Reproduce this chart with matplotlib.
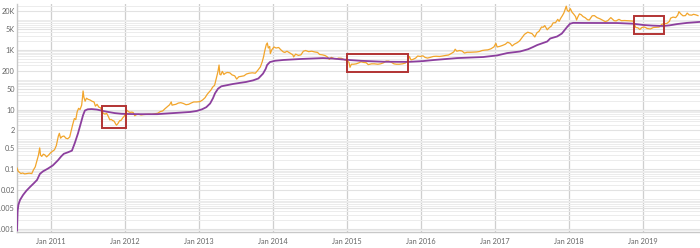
import numpy as np
import matplotlib
matplotlib.use("Agg")
import matplotlib.pyplot as plt
import matplotlib.dates as mdates
from matplotlib.patches import Rectangle
from matplotlib.ticker import FixedLocator, FixedFormatter, LogLocator, NullFormatter

# ---------------- data ----------------
price_dates = [
    "2010-07-17", "2010-07-22", "2010-07-28", "2010-08-05", "2010-08-14", "2010-08-24", "2010-09-03",
    "2010-09-15", "2010-09-28", "2010-10-06", "2010-10-15", "2010-10-24", "2010-10-31", "2010-11-06",
    "2010-11-10", "2010-11-16", "2010-11-24", "2010-12-02", "2010-12-10", "2010-12-20", "2010-12-30",
    "2011-01-08", "2011-01-18", "2011-01-27", "2011-02-06", "2011-02-11", "2011-02-17", "2011-02-25",
    "2011-03-06", "2011-03-15", "2011-03-24", "2011-04-03", "2011-04-10", "2011-04-17", "2011-04-26",
    "2011-05-03", "2011-05-10", "2011-05-17", "2011-05-24", "2011-06-01", "2011-06-05", "2011-06-08",
    "2011-06-12", "2011-06-18", "2011-06-25", "2011-07-03", "2011-07-12", "2011-07-22", "2011-08-01",
    "2011-08-08", "2011-08-16", "2011-08-25", "2011-09-02", "2011-09-09", "2011-09-16", "2011-09-24",
    "2011-10-02", "2011-10-10", "2011-10-18", "2011-10-24", "2011-11-01", "2011-11-08", "2011-11-17",
    "2011-11-20", "2011-11-27", "2011-12-05", "2011-12-12", "2011-12-20", "2011-12-28",
    "2012-01-05", "2012-01-10", "2012-01-17", "2012-01-25", "2012-02-02", "2012-02-10", "2012-02-18",
    "2012-02-27", "2012-03-08", "2012-03-20", "2012-04-02", "2012-04-15", "2012-04-28", "2012-05-12",
    "2012-05-27", "2012-06-10", "2012-06-22", "2012-07-05", "2012-07-15", "2012-07-28", "2012-08-08",
    "2012-08-16", "2012-08-20", "2012-08-28", "2012-09-08", "2012-09-20", "2012-10-02", "2012-10-15",
    "2012-10-28", "2012-11-10", "2012-11-22", "2012-12-05", "2012-12-20",
    "2013-01-05", "2013-01-18", "2013-01-30", "2013-02-09", "2013-02-18", "2013-02-28", "2013-03-08",
    "2013-03-18", "2013-03-27", "2013-04-03", "2013-04-09", "2013-04-13", "2013-04-18", "2013-04-25",
    "2013-05-03", "2013-05-10", "2013-05-20", "2013-06-01", "2013-06-12", "2013-06-25", "2013-07-05",
    "2013-07-15", "2013-07-28", "2013-08-10", "2013-08-22", "2013-09-05", "2013-09-20", "2013-10-05",
    "2013-10-18", "2013-10-30", "2013-11-08", "2013-11-15", "2013-11-20", "2013-11-28", "2013-12-03",
    "2013-12-08", "2013-12-15", "2013-12-18", "2013-12-25",
    "2014-01-05", "2014-01-15", "2014-01-28", "2014-02-08", "2014-02-20", "2014-02-28", "2014-03-10",
    "2014-03-25", "2014-04-08", "2014-04-12", "2014-04-22", "2014-05-05", "2014-05-18", "2014-05-30",
    "2014-06-10", "2014-06-25", "2014-07-10", "2014-07-25", "2014-08-08", "2014-08-18", "2014-09-01",
    "2014-09-15", "2014-09-25", "2014-10-05", "2014-10-15", "2014-10-28", "2014-11-10", "2014-11-20",
    "2014-12-05", "2014-12-20", "2014-12-31",
    "2015-01-10", "2015-01-15", "2015-01-22", "2015-02-02", "2015-02-15", "2015-03-01", "2015-03-10",
    "2015-03-22", "2015-04-05", "2015-04-15", "2015-05-01", "2015-05-15", "2015-06-01", "2015-06-15",
    "2015-06-30", "2015-07-12", "2015-07-25", "2015-08-05", "2015-08-20", "2015-09-01", "2015-09-15",
    "2015-10-01", "2015-10-15", "2015-10-28", "2015-11-04", "2015-11-12", "2015-11-22", "2015-12-05",
    "2015-12-15", "2015-12-28",
    "2016-01-10", "2016-01-20", "2016-02-01", "2016-02-15", "2016-03-01", "2016-03-15", "2016-04-01",
    "2016-04-15", "2016-05-01", "2016-05-15", "2016-05-28", "2016-06-10", "2016-06-17", "2016-06-25",
    "2016-07-08", "2016-07-20", "2016-08-02", "2016-08-15", "2016-09-01", "2016-09-15", "2016-10-01",
    "2016-10-15", "2016-10-28", "2016-11-10", "2016-11-25", "2016-12-10", "2016-12-25",
    "2017-01-04", "2017-01-10", "2017-01-22", "2017-02-05", "2017-02-20", "2017-03-03", "2017-03-15",
    "2017-03-25", "2017-04-05", "2017-04-20", "2017-05-01", "2017-05-12", "2017-05-25", "2017-06-10",
    "2017-06-20", "2017-07-01", "2017-07-15", "2017-07-25", "2017-08-05", "2017-08-17", "2017-08-25",
    "2017-09-02", "2017-09-14", "2017-09-25", "2017-10-05", "2017-10-13", "2017-10-25", "2017-11-05",
    "2017-11-12", "2017-11-20", "2017-11-28", "2017-12-05", "2017-12-10", "2017-12-17", "2017-12-22",
    "2017-12-30",
    "2018-01-06", "2018-01-15", "2018-01-22", "2018-02-01", "2018-02-06", "2018-02-12", "2018-02-20",
    "2018-03-01", "2018-03-10", "2018-03-20", "2018-04-01", "2018-04-10", "2018-04-24", "2018-05-05",
    "2018-05-18", "2018-06-01", "2018-06-15", "2018-06-28", "2018-07-10", "2018-07-25", "2018-08-10",
    "2018-08-20", "2018-09-03", "2018-09-15", "2018-10-01", "2018-10-15", "2018-11-01", "2018-11-12",
    "2018-11-20", "2018-11-25", "2018-12-05", "2018-12-15", "2018-12-25",
    "2019-01-08", "2019-01-20", "2019-02-05", "2019-02-20", "2019-03-05", "2019-03-20", "2019-04-03",
    "2019-04-15", "2019-04-28", "2019-05-10", "2019-05-16", "2019-05-28", "2019-06-10", "2019-06-20",
    "2019-06-26", "2019-07-05", "2019-07-16", "2019-07-28", "2019-08-06", "2019-08-15", "2019-08-28",
    "2019-09-06", "2019-09-18", "2019-09-28",
]
price_values = [
    0.11, 0.088, 0.08, 0.072, 0.075, 0.07, 0.072,
    0.074, 0.072, 0.095, 0.12, 0.2, 0.3, 0.52,
    0.3, 0.27, 0.32, 0.3, 0.26, 0.3, 0.36,
    0.4, 0.45, 0.62, 1.3, 1.6, 1.1, 1.25,
    1.3, 1.1, 1.05, 1.2, 1.9, 3.0, 5.0,
    4.6, 8.5, 11, 10, 14, 25, 42,
    26, 19, 24, 22, 21, 19, 18,
    13, 15, 12, 11.5, 9, 7.5, 7,
    7.5, 6, 4.5, 4.7, 4.3, 4.1, 3.2,
    3.0, 3.4, 4.2, 4.3, 5.2, 6.0,
    8.0, 9.5, 8.6, 8.0, 8.2, 8.0, 6.2,
    6.8, 7.0, 6.6, 6.8, 6.9, 7.0, 6.9,
    7.2, 7.5, 8.5, 9.0, 10.5, 12.5, 14.5,
    18, 14, 14.5, 15, 16.5, 17, 16,
    14.5, 15, 16.5, 18, 18,
    18.5, 21, 25, 32, 38, 45, 56,
    65, 115, 180, 310, 150, 145, 190,
    150, 165, 175, 170, 145, 135, 105,
    125, 130, 135, 155, 165, 170, 165,
    210, 270, 400, 600, 900, 1500, 1700,
    1150, 1300, 750, 1000,
    1250, 1150, 1200, 1000, 850, 820, 900,
    780, 680, 580, 720, 650, 680, 900,
    950, 870, 900, 850, 820, 700, 680,
    640, 580, 480, 560, 510, 500, 530,
    520, 460, 440,
    380, 260, 330, 330, 340, 370, 400,
    380, 370, 320, 340, 340, 330, 340,
    370, 420, 420, 390, 340, 330, 330,
    340, 360, 440, 600, 460, 480, 530,
    620, 600,
    630, 560, 530, 560, 600, 610, 600,
    620, 650, 670, 750, 850, 1050, 900,
    950, 920, 780, 830, 830, 840, 850,
    880, 950, 980, 1000, 1080, 1250,
    1650, 1250, 1300, 1400, 1550, 1800, 1650,
    1350, 1550, 1750, 2000, 2500, 3300, 3900,
    3700, 3500, 2700, 3700, 4200, 5800, 5700,
    6500, 4700, 5600, 6300, 8000, 8100, 10500,
    9000, 11500, 14000, 17000, 21000, 29000, 21000,
    19000,
    24000, 18000, 16000, 13000, 10000, 12500, 16000,
    15000, 13000, 12000, 10200, 10000, 13800, 14000,
    12000, 11000, 9800, 8800, 9500, 12000, 9500,
    9300, 10500, 9500, 9600, 9500, 9300, 9200,
    6800, 5600, 5500, 4800, 5600,
    5800, 5200, 5000, 5600, 5700, 5800, 7200,
    7500, 7700, 9000, 11500, 12500, 12000, 14500,
    19000, 16000, 13800, 14000, 17000, 14800, 14500,
    15500, 14800, 14000,
]

avg_dates = [
    "2010-07-17", "2010-07-20", "2010-07-24", "2010-08-01", "2010-08-16", "2010-09-01", "2010-09-19",
    "2010-10-08", "2010-10-24", "2010-11-07", "2010-11-22", "2010-12-16", "2011-01-10", "2011-02-04",
    "2011-02-20", "2011-03-05", "2011-03-25", "2011-04-14", "2011-04-28", "2011-05-14", "2011-05-28",
    "2011-06-08", "2011-06-17", "2011-07-01", "2011-07-20", "2011-08-15", "2011-09-14", "2011-10-15",
    "2011-11-12", "2011-12-15", "2012-01-20", "2012-03-14", "2012-06-07", "2012-08-10", "2012-10-01",
    "2012-11-17", "2012-12-20", "2013-01-15", "2013-02-05", "2013-02-24", "2013-03-10", "2013-03-20",
    "2013-04-04", "2013-04-20", "2013-05-20", "2013-06-17", "2013-07-20", "2013-08-20", "2013-09-24",
    "2013-10-20", "2013-11-12", "2013-11-25", "2013-12-02", "2013-12-16", "2014-01-10", "2014-02-19",
    "2014-05-14", "2014-09-04", "2014-10-24", "2014-12-05", "2015-01-15", "2015-03-10", "2015-06-27",
    "2015-10-28", "2016-01-10", "2016-03-01", "2016-06-27", "2016-11-02", "2017-01-10", "2017-03-01",
    "2017-05-03", "2017-06-12", "2017-07-07", "2017-07-27", "2017-09-14", "2017-09-29", "2017-11-02",
    "2017-11-25", "2017-12-08", "2017-12-21", "2018-01-05", "2018-01-20", "2018-03-10", "2018-08-25",
    "2018-11-12", "2019-01-01", "2019-02-15", "2019-04-09", "2019-05-10", "2019-06-17", "2019-08-06",
    "2019-10-05",
]
avg_values = [
    0.0009, 0.004, 0.0065, 0.0094, 0.0138, 0.019, 0.0255,
    0.034, 0.044, 0.07, 0.085, 0.105, 0.135, 0.2,
    0.27, 0.33, 0.37, 0.42, 0.75, 1.6, 3.5,
    6.5, 9.3, 10.2, 10.4, 10.0, 9.0, 8.2,
    7.6, 7.2, 7.1, 7.0, 7.0, 7.5, 7.9,
    8.3, 9.0, 10.2, 12, 16, 24, 35,
    50, 60, 66, 72, 78, 84, 95,
    110, 160, 230, 310, 390, 430, 457,
    493, 530, 510, 480, 455, 430, 400,
    395, 420, 455, 530, 575, 650, 780,
    880, 1050, 1250, 1450, 1900, 2400, 2800,
    3500, 4500, 5800, 7500, 8000, 7950, 7900,
    7500, 6800, 6500, 6300, 6600, 7300, 8000,
    8600,
]

# highlighted periods (start, end, low, high)
box_starts = ["2011-09-09", "2015-01-01", "2018-11-17"]
box_ends = ["2012-01-06", "2015-10-28", "2019-04-14"]
box_lows = [2.41, 181, 3390]
box_highs = [13.2, 726, 13600]

y_ticks = [0.001, 0.005, 0.02, 0.1, 0.5, 2, 10, 50, 200, 1000, 5000, 20000]
y_tick_labels = ["0.001", "0.005", "0.02", "0.1", "0.5", "2", "10", "50", "200", "1K", "5K", "20K"]

# ---------------- plot ----------------
plt.rcParams['font.family'] = ['Lato', 'DejaVu Sans']

fig = plt.figure(figsize=(7.0, 2.48), dpi=100)
ax = fig.add_axes([17 / 700, 16 / 248, 683 / 700, 228 / 248])

pd_ = np.array(price_dates, dtype="datetime64[D]")
ad_ = np.array(avg_dates, dtype="datetime64[D]")

ax.plot(pd_, price_values, color="#f2a52b", lw=0.9, zorder=3)
ax.plot(ad_, avg_values, color="#8c3f9e", lw=1.3, zorder=4)

for s, e, lo, hi in zip(box_starts, box_ends, box_lows, box_highs):
    x0 = mdates.date2num(np.datetime64(s))
    x1 = mdates.date2num(np.datetime64(e))
    ax.add_patch(Rectangle((x0, lo), x1 - x0, hi - lo, fill=False,
                           edgecolor="#b23333", lw=1.4, zorder=5))

ax.set_yscale("log")
ax.set_ylim(7.93e-4, 3.43e4)
ax.set_xlim(mdates.date2num(np.datetime64("2010-07-17")),
            mdates.date2num(np.datetime64("2019-10-08")))

ax.yaxis.set_major_locator(FixedLocator(y_ticks))
ax.yaxis.set_major_formatter(FixedFormatter(y_tick_labels))
ax.yaxis.set_minor_locator(LogLocator(base=10, subs=np.arange(1, 10), numticks=100))
ax.yaxis.set_minor_formatter(NullFormatter())

ax.xaxis.set_major_locator(mdates.YearLocator())
ax.xaxis.set_major_formatter(mdates.DateFormatter("%b %Y"))

ax.grid(axis="y", which="minor", color="#ececec", lw=0.7, zorder=0)
ax.grid(axis="y", which="major", color="#e2e2e2", lw=0.8, zorder=0)
ax.grid(axis="x", which="major", color="#cfcfcf", lw=0.9, zorder=1)
ax.set_axisbelow(True)

ax.tick_params(axis="both", which="both", length=0, labelsize=5.3, labelcolor="#666666")
ax.tick_params(axis="y", pad=1.5)
ax.tick_params(axis="x", pad=4)

for sp in ["top", "right"]:
    ax.spines[sp].set_visible(False)
for sp in ["left", "bottom"]:
    ax.spines[sp].set_color("#c8c8c8")
    ax.spines[sp].set_linewidth(1.0)

fig.savefig("out.png", dpi=100)
